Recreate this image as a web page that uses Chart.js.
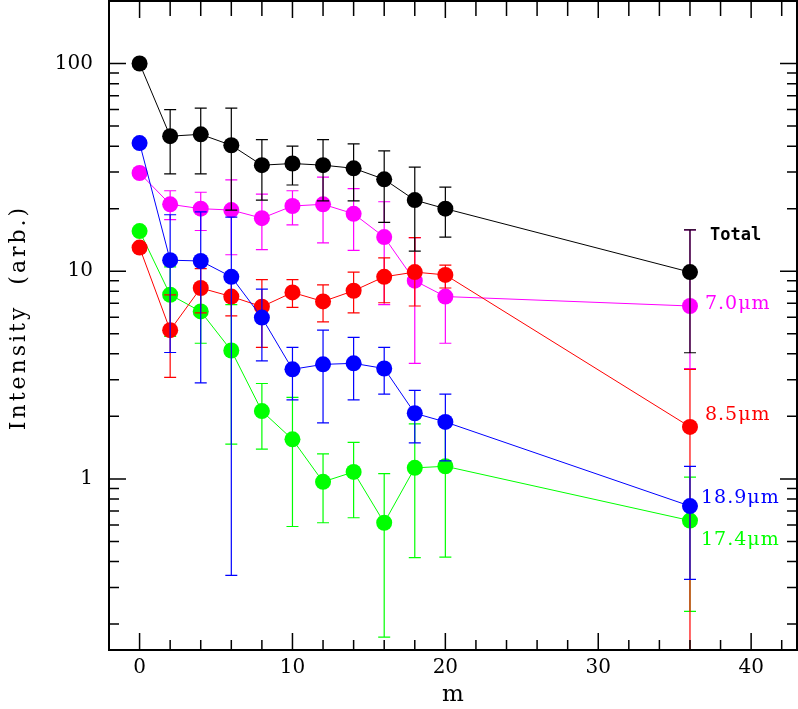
<!DOCTYPE html>
<html>
<head>
<meta charset="utf-8">
<script src="https://cdn.jsdelivr.net/npm/chart.js@4/dist/chart.umd.min.js"></script>
<style>
  html, body { margin: 0; padding: 0; background: #fff; }
  #wrap { width: 798px; height: 709px; }
</style>
</head>
<body>
<div id="wrap"><canvas id="intensity-chart" width="798" height="709"></canvas></div>
<script>
"use strict";
// m values
const mValues = [0, 2, 4, 6, 8, 10, 12, 14, 16, 18, 20, 36];

// Total
const totalVals = [100, 44.7, 45.6, 40.4, 32.4, 33, 32.4, 31.3, 27.7, 22, 20, 9.9];
const totalHi = [null, 60, 61, 61, 43, 40, 43, 41, 38, 31.7, 25.4, 15.8];
const totalLo = [null, 29.4, 29.4, 19.7, 22, 26, 21.8, 21.8, 17.2, 12.5, 14.6, 4.05];

// 7.0um
const magVals = [29.7, 21, 20, 19.7, 18, 20.6, 21, 18.9, 14.6, 9, 7.55, 6.8];
const magHi = [null, 24.4, 24, 27.5, 23.5, 24.4, 28.4, 25, 21.6, 14.5, 10, 15.8];
const magLo = [null, 17.7, 15.7, 12, 12.7, 16.7, 13.7, 12.6, 6.9, 3.6, 4.5, 3.4];

// 8.5um
const redVals = [13, 5.2, 8.3, 7.55, 6.75, 7.9, 7.15, 8.05, 9.4, 9.9, 9.6, 1.78];
const redHi = [null, 7.7, 10.3, 9.3, 9.1, 9.1, 8.6, 9.9, 11.6, 14.5, 10.7, 3.37];
const redLo = [null, 3.08, 6.3, 6.1, 4.3, 6.7, 5.7, 6.3, 7.05, 6.8, 8.3, 0.05];

// 18.9um
const blueVals = [41.4, 11.3, 11.2, 9.4, 5.98, 3.37, 3.56, 3.6, 3.4, 2.07, 1.88, 0.74];
const blueHi = [null, 18.7, 19.3, 18.2, 8.2, 4.3, 5.2, 4.8, 4.3, 2.67, 2.56, 1.15];
const blueLo = [null, 4.06, 2.9, 0.343, 3.7, 2.4, 1.86, 2.4, 2.56, 1.49, 1.22, 0.328];

// 17.4um
const greenVals = [15.6, 7.7, 6.4, 4.15, 2.12, 1.55, 0.968, 1.08, 0.615, 1.13, 1.15, 0.63];
const greenHi = [null, 10.5, 8.25, 6.9, 2.88, 2.47, 1.32, 1.5, 1.06, 1.84, 1.86, 1.02];
const greenLo = [null, 4.85, 4.5, 1.47, 1.39, 0.59, 0.615, 0.65, 0.173, 0.418, 0.42, 0.23];

const seriesNames = ["Total", "7.0\u03bcm", "8.5\u03bcm", "18.9\u03bcm", "17.4\u03bcm"];
const xTickVals = [0, 10, 20, 30, 40];
const yTickVals = [1, 10, 100];
const yTitle = "Intensity  (arb.)";

const serif = "'DejaVu Serif', 'Liberation Serif', serif";

function pts(vals) {
  return vals.map((v, i) => ({ x: mValues[i], y: v }));
}

function series(name, vals, hi, lo, color, label) {
  return {
    label: name,
    data: pts(vals),
    errHi: hi,
    errLo: lo,
    tag: label,
    borderColor: color,
    backgroundColor: color,
    pointBackgroundColor: color,
    pointBorderWidth: 0,
    pointRadius: 8,
    borderWidth: 1,
    tension: 0,
  };
}

// dataset 0 is drawn last (on top)
const datasets = [
  series(seriesNames[0], totalVals, totalHi, totalLo, "#000000",
    { dx: 20, dy: -37, font: "bold 17px 'DejaVu Sans Mono', monospace", sp: "0px" }),
  series(seriesNames[3], blueVals, blueHi, blueLo, "#0000ff",
    { dx: 11, dy: -8, font: "19px " + serif, sp: "1px" }),
  series(seriesNames[2], redVals, redHi, redLo, "#ff0000",
    { dx: 15, dy: -12, font: "19px " + serif, sp: "1px" }),
  series(seriesNames[1], magVals, magHi, magLo, "#ff00ff",
    { dx: 15, dy: -2, font: "19px " + serif, sp: "1px" }),
  series(seriesNames[4], greenVals, greenHi, greenLo, "#00ff00",
    { dx: 11, dy: 20, font: "19px " + serif, sp: "1px" }),
];

// error bars under each dataset's own markers
const errorBars = {
  id: "errorBars",
  beforeDatasetDraw(chart, args) {
    const ds = chart.data.datasets[args.index];
    const xs = chart.scales.x, ys = chart.scales.y;
    const area = chart.chartArea;
    const ctx = chart.ctx;
    ctx.save();
    ctx.beginPath();
    ctx.rect(area.left, area.top, area.right - area.left, area.bottom - area.top);
    ctx.clip();
    ctx.strokeStyle = ds.borderColor;
    ctx.lineWidth = 1.2;
    ds.data.forEach((p, i) => {
      const hi = ds.errHi[i], lo = ds.errLo[i];
      if (hi == null || lo == null) return;
      const px = xs.getPixelForValue(p.x);
      const yh = ys.getPixelForValue(hi);
      const yl = ys.getPixelForValue(lo);
      ctx.beginPath();
      ctx.moveTo(px, yh); ctx.lineTo(px, yl);
      ctx.moveTo(px - 6, yh); ctx.lineTo(px + 6, yh);
      ctx.moveTo(px - 6, yl); ctx.lineTo(px + 6, yl);
      ctx.stroke();
    });
    ctx.restore();
  },
};

// labels next to the last point
const endLabels = {
  id: "endLabels",
  afterDatasetsDraw(chart) {
    const ctx = chart.ctx;
    ctx.save();
    ctx.textAlign = "left";
    ctx.textBaseline = "middle";
    chart.data.datasets.forEach((ds, i) => {
      const meta = chart.getDatasetMeta(i);
      const last = meta.data[meta.data.length - 1];
      ctx.fillStyle = ds.borderColor;
      ctx.font = ds.tag.font;
      ctx.letterSpacing = ds.tag.sp;
      ctx.fillText(ds.label, last.x + ds.tag.dx, last.y + ds.tag.dy);
    });
    ctx.restore();
  },
};

// frame with inward ticks on all four sides, plus spaced y title
const frame = {
  id: "frame",
  afterDraw(chart) {
    const ctx = chart.ctx;
    const a = chart.chartArea;
    const xs = chart.scales.x, ys = chart.scales.y;
    ctx.save();
    ctx.strokeStyle = "#000";
    ctx.lineWidth = 1.5;
    ctx.beginPath();
    for (let v = 0; v <= xs.max; v += 2) {
      const px = xs.getPixelForValue(v);
      const major = v % 10 === 0;
      ctx.moveTo(px, a.bottom); ctx.lineTo(px, a.bottom - (major ? 17 : 10));
      ctx.moveTo(px, a.top); ctx.lineTo(px, a.top + (major ? 17 : 15));
    }
    for (let d = 0.1; d <= 100; d *= 10) {
      for (let k = 1; k <= 9; k++) {
        const v = d * k;
        if (v < ys.min || v > ys.max) continue;
        const py = ys.getPixelForValue(v);
        const len = k === 1 ? 17 : 10;
        ctx.moveTo(a.left, py); ctx.lineTo(a.left + len, py);
        ctx.moveTo(a.right, py); ctx.lineTo(a.right - len, py);
      }
    }
    ctx.stroke();
    ctx.lineWidth = 2;
    ctx.strokeRect(a.left, a.top, a.right - a.left, a.bottom - a.top);

    ctx.translate(19, (a.top + a.bottom) / 2 - 8);
    ctx.rotate(-Math.PI / 2);
    ctx.fillStyle = "#000";
    ctx.font = "22px " + serif;
    ctx.letterSpacing = "3px";
    ctx.textAlign = "center";
    ctx.textBaseline = "middle";
    ctx.fillText(yTitle, 0, 0);
    ctx.restore();
  },
};

function noPad(s) {
  s.paddingTop = 0;
  s.paddingBottom = 0;
  s.paddingLeft = 0;
  s.paddingRight = 0;
}

new Chart(document.querySelector("#intensity-chart"), {
  type: "line",
  data: { datasets: datasets },
  plugins: [errorBars, endLabels, frame],
  options: {
    responsive: false,
    animation: false,
    layout: { autoPadding: false, padding: { top: 1, right: 1, left: 0, bottom: 0 } },
    plugins: { legend: { display: false }, tooltip: { enabled: false } },
    scales: {
      x: {
        type: "linear",
        min: -2,
        max: 43,
        afterBuildTicks: (s) => { s.ticks = xTickVals.map((v) => ({ value: v })); },
        afterFit: (s) => { s.height = 59; noPad(s); },
        grid: { display: false, drawTicks: false },
        border: { display: false },
        ticks: { color: "#000", font: { family: serif, size: 20 }, padding: 6, maxRotation: 0 },
        title: { display: true, text: "m", color: "#000", font: { family: serif, size: 23 }, padding: 0 },
      },
      y: {
        type: "logarithmic",
        min: 0.15,
        max: 200,
        afterBuildTicks: (s) => { s.ticks = yTickVals.map((v) => ({ value: v })); },
        afterFit: (s) => { s.width = 109; noPad(s); },
        grid: { display: false, drawTicks: false },
        border: { display: false },
        ticks: { color: "#000", font: { family: serif, size: 20 }, padding: 16, callback: (v) => String(v) },
        title: { display: false },
      },
    },
  },
});
</script>
</body>
</html>
